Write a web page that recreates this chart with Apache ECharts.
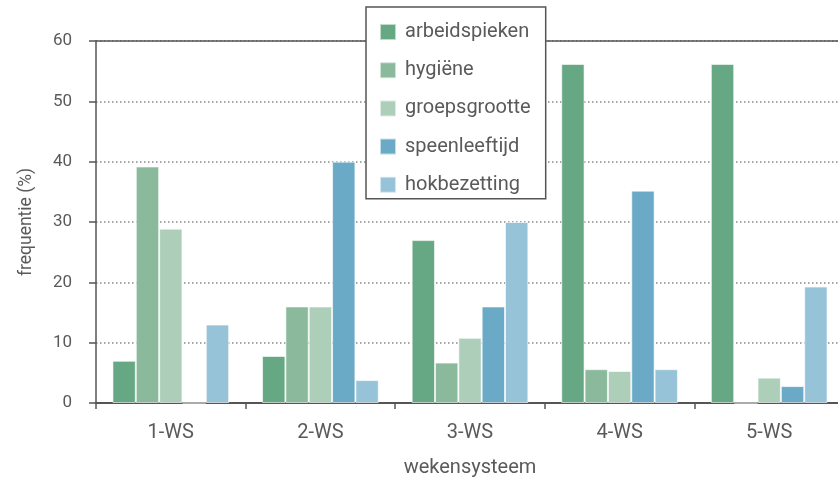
<!DOCTYPE html>
<html>
<head>
<meta charset="utf-8">
<script src="https://cdn.jsdelivr.net/npm/echarts@6/dist/echarts.min.js"></script>
<style>html,body{margin:0;padding:0;background:#fff;}#c{width:838px;height:478px;}</style>
</head>
<body>
<div id="c"></div>
<script>
const categories = ['1-WS', '2-WS', '3-WS', '4-WS', '5-WS'];
const seriesNames = ['arbeidspieken', 'hygiëne', 'groepsgrootte', 'speenleeftijd', 'hokbezetting'];
const arbeidspieken = [7, 7.8, 27, 56.2, 56.2];
const hygiene = [39.2, 16, 6.7, 5.6, 0];
const groepsgrootte = [28.9, 16, 10.8, 5.3, 4.2];
const speenleeftijd = [0, 40, 16, 35.2, 2.8];
const hokbezetting = [13, 3.8, 30, 5.6, 19.3];
const yTicks = [0, 10, 20, 30, 40, 50, 60];

const colors = ['#65a883', '#8aba9b', '#adcfba', '#6aaac6', '#97c3d8'];
const values = [arbeidspieken, hygiene, groepsgrootte, speenleeftijd, hokbezetting];
const FONT = 'Roboto';
const TXT = '#5a5a5a';
const AX = '#555555';

const chart = echarts.init(document.getElementById('c'), null, {renderer: 'canvas'});
chart.setOption({
  animation: false,
  backgroundColor: '#ffffff',
  grid: {left: 96, right: -6, top: 41, bottom: 75, containLabel: false, outerBoundsMode: 'none'},
  legend: {
    orient: 'vertical',
    left: 366, top: 7,
    padding: [15, 15, 4, 13],
    itemWidth: 16, itemHeight: 16, itemGap: 18.2,
    icon: 'rect',
    backgroundColor: '#ffffff',
    borderColor: AX, borderWidth: 1.5,
    textStyle: {fontFamily: FONT, fontSize: 20, color: TXT, padding: [0, 0, 0, 4]},
    data: seriesNames
  },
  xAxis: [{
    type: 'category',
    data: categories,
    name: 'wekensysteem',
    nameLocation: 'middle',
    nameGap: 55,
    nameTextStyle: {fontFamily: FONT, fontSize: 20, color: TXT},
    axisLine: {lineStyle: {color: AX, width: 2}},
    axisTick: {show: true, length: 6, lineStyle: {color: AX, width: 1.5}},
    axisLabel: {fontFamily: FONT, fontSize: 20, color: TXT, margin: 20}
  }, {
    type: 'category',
    data: categories,
    position: 'top',
    axisLine: {show: true, lineStyle: {color: AX, width: 1.5}},
    axisTick: {show: false},
    axisLabel: {show: false}
  }],
  yAxis: {
    type: 'value',
    min: yTicks[0], max: yTicks[yTicks.length - 1], interval: 10,
    name: 'frequentie (%)',
    nameLocation: 'middle',
    nameGap: 60,
    nameTextStyle: {fontFamily: FONT, fontSize: 17.5, color: TXT},
    axisLine: {show: true, lineStyle: {color: AX, width: 1.5}},
    axisTick: {show: true, length: 7, lineStyle: {color: AX, width: 1.5}},
    axisLabel: {fontFamily: FONT, fontSize: 17, color: TXT, margin: 24},
    splitLine: {show: true, lineStyle: {color: '#888888', type: [1.5, 2.5], width: 1.5}}
  },
  series: seriesNames.map((n, i) => ({
    name: n,
    type: 'bar',
    data: values[i],
    barGap: '0%',
    barCategoryGap: '22%',
    itemStyle: {color: colors[i], borderColor: 'rgba(255,255,255,0.6)', borderWidth: 1},
    emphasis: {disabled: true}
  }))
});
</script>
</body>
</html>
